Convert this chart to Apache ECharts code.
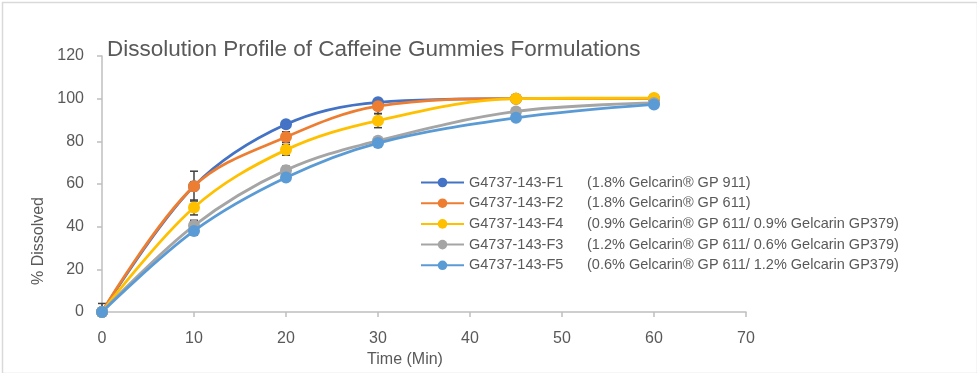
<!DOCTYPE html>
<html><head><meta charset="utf-8">
<script src="https://cdn.jsdelivr.net/npm/echarts@6/dist/echarts.min.js"></script>
<style>html,body{margin:0;padding:0;background:#fff}#c{width:977px;height:373px}</style>
</head><body><div id="c"></div>
<script>
var times = [0, 10, 20, 30, 45, 60];
var seriesNames = ['G4737-143-F1', 'G4737-143-F2', 'G4737-143-F4', 'G4737-143-F3', 'G4737-143-F5'];
var descriptions = [
  '(1.8% Gelcarin\u00AE GP 911)',
  '(1.8% Gelcarin\u00AE GP 611)',
  '(0.9% Gelcarin\u00AE GP 611/ 0.9% Gelcarin GP379)',
  '(1.2% Gelcarin\u00AE GP 611/ 0.6% Gelcarin GP379)',
  '(0.6% Gelcarin\u00AE GP 611/ 1.2% Gelcarin GP379)'
];
var f1 = [0, 59, 88, 98.3, 100, 100];
var f2 = [0, 59, 82, 96.5, 100, 100];
var f4 = [0, 49, 76, 89.7, 100, 100.3];
var f3 = [0, 40.5, 66.5, 80.3, 94, 98];
var f5 = [0, 38, 63, 79.2, 91, 97.3];
var e1 = [0, 2, 1.5, 1, 0.5, 0.5];
var e2 = [4, 7, 2.5, 3.5, 0.5, 0.5];
var e4 = [2, 3.5, 2.5, 3.3, 1, 0.5];
var e3 = [1, 2.5, 1.8, 1, 1, 1];
var e5 = [1, 2, 1, 1, 1, 1];
var xTicks = [0, 10, 20, 30, 40, 50, 60, 70];
var yTicks = [0, 20, 40, 60, 80, 100, 120];

var values = [f1, f2, f4, f3, f5];
var errs = [e1, e2, e4, e3, e5];
var colors = ['#4472C4', '#ED7D31', '#FFC000', '#A5A5A5', '#5B9BD5'];
var FONT = 'Liberation Sans';
var TXT = '#595959';

var series = [];
values.forEach(function (v, i) {
  series.push({
    type: 'custom',
    name: seriesNames[i] + '_err',
    silent: true,
    z: 1,
    data: times.map(function (t, k) { return [t, Math.max(0, v[k] - errs[i][k]), v[k] + errs[i][k]]; }),
    renderItem: function (params, api) {
      var x = api.value(0);
      var lo = api.coord([x, api.value(1)]);
      var hi = api.coord([x, api.value(2)]);
      var w = 4;
      var st = { stroke: '#404040', lineWidth: 1.5 };
      return {
        type: 'group',
        children: [
          { type: 'line', shape: { x1: lo[0], y1: lo[1], x2: hi[0], y2: hi[1] }, style: st },
          { type: 'line', shape: { x1: lo[0] - w, y1: lo[1], x2: lo[0] + w, y2: lo[1] }, style: st },
          { type: 'line', shape: { x1: hi[0] - w, y1: hi[1], x2: hi[0] + w, y2: hi[1] }, style: st }
        ]
      };
    }
  });
});
values.forEach(function (v, i) {
  series.push({
    type: 'line',
    name: seriesNames[i],
    z: 2 + i,
    smooth: 0.35,
    symbol: 'circle',
    symbolSize: 12,
    showSymbol: true,
    lineStyle: { width: 2.8, color: colors[i] },
    itemStyle: { color: colors[i] },
    data: times.map(function (t, k) { return [t, v[k]]; })
  });
});

var chart = echarts.init(document.getElementById('c'));
chart.setOption({
  animation: false,
  backgroundColor: '#fff',
  color: colors,
  title: {
    text: 'Dissolution Profile of Caffeine Gummies Formulations',
    left: 102, top: 33,
    textStyle: { fontFamily: FONT, fontSize: 22.5, fontWeight: 'normal', color: TXT }
  },
  grid: { left: 102, right: 231, top: 56, bottom: 61, containLabel: false },
  legend: {
    data: seriesNames,
    orient: 'vertical',
    left: 415, top: 169,
    itemWidth: 43, itemHeight: 12, itemGap: 3.7,
    formatter: function (name) {
      var i = seriesNames.indexOf(name);
      return '{a|' + name + '}{b|' + descriptions[i] + '}';
    },
    textStyle: {
      fontFamily: FONT, fontSize: 14.5, color: TXT, lineHeight: 17,
      rich: {
        a: { width: 118, fontFamily: FONT, fontSize: 14.5, color: TXT },
        b: { fontFamily: FONT, fontSize: 14.5, color: TXT }
      }
    }
  },
  xAxis: {
    type: 'value', min: 0, max: 70, interval: 10,
    name: 'Time (Min)', nameLocation: 'middle', nameGap: 35,
    nameTextStyle: { fontFamily: FONT, fontSize: 16, color: TXT, padding: [0, 38, 0, 0] },
    axisLine: { show: true, lineStyle: { color: '#BFBFBF', width: 1.5 } },
    axisTick: { show: true, length: 5, lineStyle: { color: '#BFBFBF', width: 1.5 } },
    axisLabel: { margin: 19, fontFamily: FONT, fontSize: 16, color: TXT },
    splitLine: { show: false }
  },
  yAxis: {
    type: 'value', min: 0, max: 120, interval: 20,
    name: '% Dissolved', nameLocation: 'middle', nameGap: 52, nameRotate: 90,
    nameTextStyle: { fontFamily: FONT, fontSize: 16, color: TXT, padding: [0, 114, 0, 0] },
    axisLine: { show: true, lineStyle: { color: '#BFBFBF', width: 1.5 } },
    axisTick: { show: true, length: 5, lineStyle: { color: '#BFBFBF', width: 1.5 } },
    axisLabel: { margin: 18, fontFamily: FONT, fontSize: 16, color: TXT },
    splitLine: { show: false }
  },
  graphic: [{
    type: 'rect', left: 0, top: 0, z: -10, silent: true,
    shape: { x: 0.5, y: 0.5, width: 975, height: 371 },
    style: { fill: 'none', stroke: '#D9D9D9', lineWidth: 1.5 }
  }],
  series: series
});
</script></body></html>
